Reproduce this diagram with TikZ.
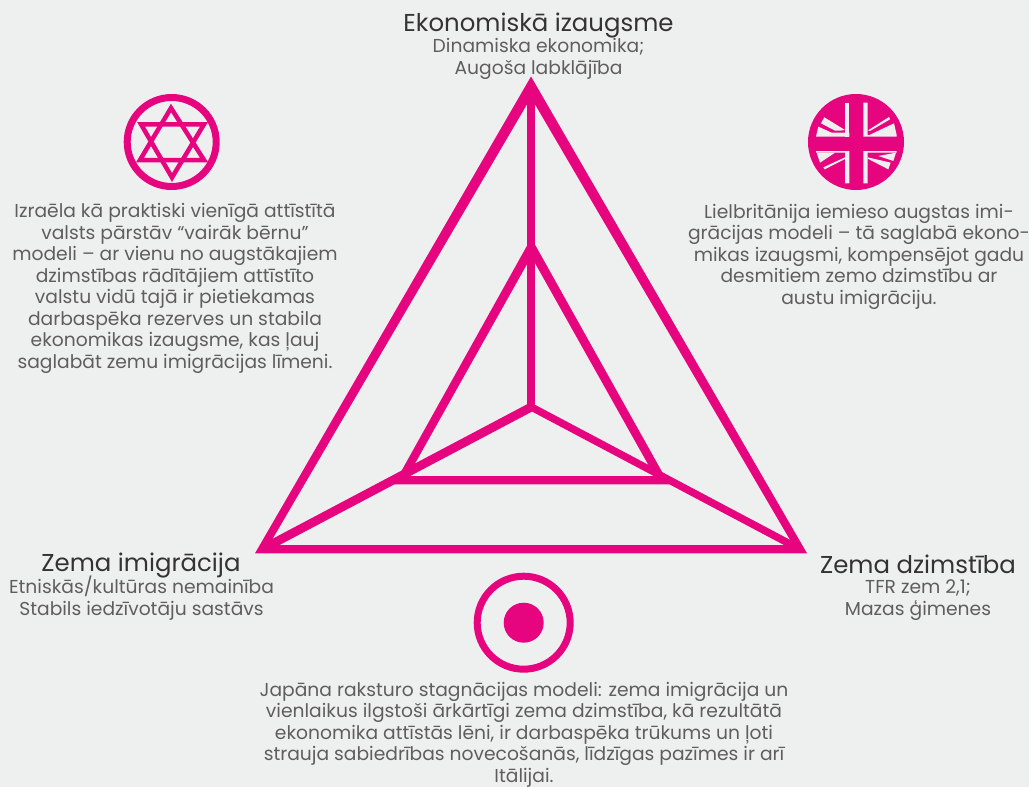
\documentclass[tikz,border=0pt]{standalone}
\usepackage{fontspec}
\setmainfont{Poppins}
\definecolor{bg}{HTML}{EEF0EF}
\definecolor{pink}{HTML}{E6057F}
\definecolor{body}{HTML}{5E5E5E}
\definecolor{head}{HTML}{333333}
\tikzset{
  frameshape/.style={fill=pink,draw=none,even odd rule},
  spoke/.style={draw=pink,line width=#1,line cap=butt},
  title/.style={text=head,font=\fontsize{24.4}{28}\selectfont,inner sep=0pt,align=center},
  bodytext/.style={text=body,font=\fontsize{18.7}{21.5}\selectfont,inner sep=0pt,align=center},
  star/.style={draw=pink,line width=4.5pt,line join=miter,miter limit=10},
  flagwhite/.style={fill=bg,draw=none}
}
\begin{document}
\begin{tikzpicture}[x=1pt,y=-1pt]
\useasboundingbox (0,0) rectangle (1029,787);
\fill[bg] (0,0) rectangle (1029,787);
% main triangle
\coordinate (A) at (531.3,84);
\coordinate (L) at (262.2,549.2);
\coordinate (R) at (799.8,549.2);
\coordinate (O) at (531.3,407);
% spokes
\draw[spoke=7.7pt] (531.3,411) -- (A);
\draw[spoke=8.8pt] (O) -- (L);
\draw[spoke=7.4pt] (O) -- (R);
% outer triangle
\fill[frameshape] (531,76.5) -- (255,553.3) -- (807,553.3) -- cycle
  (531,97.5) -- (269,545) -- (793,545) -- cycle;
% inner triangle
\fill[frameshape] (531.3,238) -- (394,484.3) -- (669,484.3) -- cycle
  (531.3,256.5) -- (408,476) -- (654.6,476) -- cycle;
% titles
\node[title] (t1) at (538.5,26) {Ekonomiskā izaugsme};
\node[bodytext] (s1) at (538.5,59) {Dinamiska ekonomika;\\Augoša labklājība};
\node[title] (t2) at (141,566) {Zema imigrācija};
\node[bodytext] (s2) at (141.5,598) {Etniskās/kultūras nemainība\\Stabils iedzīvotāju sastāvs};
\node[title] (t3) at (918,564.5) {Zema dzimstība};
\node[bodytext] (s3) at (918,600) {TFR zem 2,1;\\Mazas ģimenes};
% texts
\node[bodytext] (left) at (175,288.5) {Izraēla kā praktiski vienīgā attīstītā\\valsts pārstāv “vairāk bērnu”\\modeli – ar vienu no augstākajiem\\dzimstības rādītājiem attīstīto\\valstu vidū tajā ir pietiekamas\\darbaspēka rezerves un stabila\\ekonomikas izaugsme, kas ļauj\\saglabāt zemu imigrācijas līmeni.};
\node[bodytext] (right) at (859,256.5) {Lielbritānija iemieso augstas imi-\\grācijas modeli – tā saglabā ekono-\\mikas izaugsmi, kompensējot gadu\\desmitiem zemo dzimstību ar\\austu imigrāciju.};
\node[bodytext] (bottom) at (524,734.5) {Japāna raksturo stagnācijas modeli: zema imigrācija un\\vienlaikus ilgstoši ārkārtīgi zema dzimstība, kā rezultātā\\ekonomika attīstās lēni, ir darbaspēka trūkums un ļoti\\strauja sabiedrības novecošanās, līdzīgas pazīmes ir arī\\Itālijai.};
% star icon
\draw[pink,line width=7pt] (171.7,142) circle (44.5);
\draw[star] (171,108) -- (140,160) -- (204,160) -- cycle;
\draw[star] (172,177.5) -- (141,124.3) -- (204,124.3) -- cycle;
% flag icon
\fill[pink] (856,142) circle (48);
\begin{scope}[shift={(790,80)},x=1/3pt,y=-1/3pt]
 % upper left
 \fill[flagwhite] (165,68) -- (178,68) -- (178,170) -- (165,170) -- cycle;
 \fill[flagwhite] (103,112) -- (165,150) -- (150,152) -- (135,152) -- (93,130) -- cycle;
 \fill[flagwhite] (85,140) -- (125,158) -- (178,158) -- (178,170) -- (78,170) -- cycle;
 % upper right
 \fill[flagwhite] (220,68) -- (233,68) -- (233,165) -- (320,165) -- (320,170) -- (220,170) -- cycle;
 \fill[flagwhite] (297,111) -- (300,118) -- (240,153) -- (234,151) -- cycle;
 \fill[flagwhite] (312,130) -- (320,165) -- (238,165) -- cycle;
 % lower left
 \fill[flagwhite] (78,213) -- (178,213) -- (178,310) -- (165,310) -- (165,218) -- (78,218) -- cycle;
 \fill[flagwhite] (80,218) -- (135,218) -- (90,248) -- cycle;
 \fill[flagwhite] (165,232) -- (165,237) -- (104,268) -- (100,262) -- cycle;
 % lower right
 \fill[flagwhite] (220,213) -- (320,213) -- (320,218) -- (233,218) -- (233,310) -- (220,310) -- cycle;
 \fill[flagwhite] (233,232) -- (302,248) -- (295,268) -- (233,236) -- cycle;
 \fill[flagwhite] (265,228) -- (318,218) -- (310,243) -- cycle;
\end{scope}
% target icon
\draw[pink,line width=7pt] (523.7,622.7) circle (46.5);
\fill[pink] (523.7,622.7) circle (20);
\end{tikzpicture}
\end{document}
